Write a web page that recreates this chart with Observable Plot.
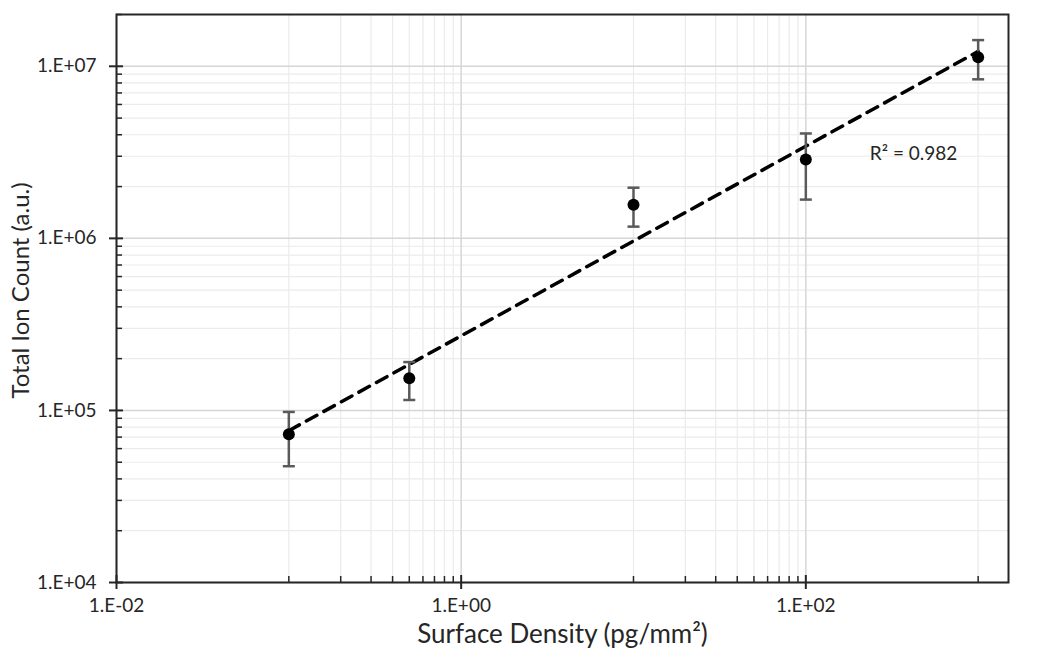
<!DOCTYPE html>
<html><head><meta charset="utf-8">
<script src="https://cdn.jsdelivr.net/npm/d3@7"></script>
<script src="https://cdn.jsdelivr.net/npm/@observablehq/plot@0.6"></script>
<style>body{margin:0;background:#fff;} svg{display:block;}</style>
</head><body><div id="chart"></div>
<script>
// Data
const density = [0.1, 0.5, 10, 100, 1000];
const ionCount = [72800, 154000, 1570000, 2870000, 11300000];
const errLow = [47400, 115000, 1170000, 1680000, 8400000];
const errHigh = [98000, 191000, 1970000, 4070000, 14200000];

// Axis ticks
const xMajorTicks = [0.01, 1, 100];
const xTickLabels = ["1.E-02", "1.E+00", "1.E+02"];
const xMinorTicks = [0.1, 0.2, 0.3, 0.4, 0.5, 0.6, 0.7, 0.8, 0.9, 10, 20, 30, 40, 50, 60, 70, 80, 90, 1000];
const yMajorTicks = [1e4, 1e5, 1e6, 1e7];
const yTickLabels = ["1.E+04", "1.E+05", "1.E+06", "1.E+07"];
const yMinorTicks = [2e4, 3e4, 4e4, 5e4, 6e4, 7e4, 8e4, 9e4,
                     2e5, 3e5, 4e5, 5e5, 6e5, 7e5, 8e5, 9e5,
                     2e6, 3e6, 4e6, 5e6, 6e6, 7e6, 8e6, 9e6, 2e7];
const xDomain = [0.01, 1500];
const yDomain = [1e4, 2e7];

const xTitle = "Surface Density (pg/mm²)";
const yTitle = "Total Ion Count (a.u.)";
const r2Label = ["R² = 0.982"];
const r2Anchor = [{x: 235, y: 3.1e6}];

const rows = density.map((x, i) => ({x, y: ionCount[i], lo: errLow[i], hi: errHigh[i]}));

// Power-law trendline (least squares in log-log space, as Excel's power trendline)
const lx = density.map(Math.log10), ly = ionCount.map(Math.log10);
const mx = d3.mean(lx), my = d3.mean(ly);
const slope = d3.sum(lx, (v, i) => (v - mx) * (ly[i] - my)) / d3.sum(lx, v => (v - mx) ** 2);
const icpt = my - slope * mx;
const xExt = d3.extent(density);
const trend = xExt.map(x => ({x, y: 10 ** (icpt + slope * Math.log10(x))}));

const cap = {draw(ctx, size) { const w = Math.sqrt(size / Math.PI); ctx.moveTo(-w, 0); ctx.lineTo(w, 0); }};

const FONT = "Lato, 'Open Sans', sans-serif";
const INK = "#262626";
const fmtX = d => xTickLabels[xMajorTicks.indexOf(d)];
const fmtY = d => yTickLabels[yMajorTicks.indexOf(d)];

const chart = Plot.plot({
  width: 1050, height: 657,
  marginLeft: 116, marginRight: 42, marginTop: 14, marginBottom: 75,
  style: {fontFamily: FONT, color: INK, background: "#fff"},
  x: {type: "log", domain: xDomain, axis: null},
  y: {type: "log", domain: yDomain, axis: null},
  marks: [
    Plot.ruleX(xMinorTicks, {stroke: "#ebebeb", strokeWidth: 1.2}),
    Plot.ruleY(yMinorTicks, {stroke: "#ebebeb", strokeWidth: 1.2}),
    Plot.ruleX(xMajorTicks, {stroke: "#d6d6d6", strokeWidth: 1.5}),
    Plot.ruleY(yMajorTicks, {stroke: "#d6d6d6", strokeWidth: 1.5}),
    // minor ticks (inside)
    Plot.axisX({ticks: xMinorTicks, anchor: "bottom", tickSize: -6, text: null, label: null, strokeWidth: 1.5, stroke: INK}),
    Plot.axisY({ticks: yMinorTicks, anchor: "left", tickSize: -6, text: null, label: null, strokeWidth: 1.5, stroke: INK}),
    // major ticks crossing the axis
    Plot.axisX({ticks: xMajorTicks, anchor: "bottom", tickSize: -7, text: null, label: null, strokeWidth: 2, stroke: INK}),
    Plot.axisY({ticks: yMajorTicks, anchor: "left", tickSize: -7, text: null, label: null, strokeWidth: 2, stroke: INK}),
    Plot.axisX({ticks: xMajorTicks, anchor: "bottom", tickSize: 7, tickPadding: 9, tickFormat: fmtX, label: null, fontSize: 19, strokeWidth: 2, stroke: INK, fill: INK}),
    Plot.axisY({ticks: yMajorTicks, anchor: "left", tickSize: 7, tickPadding: 13, tickFormat: fmtY, label: null, fontSize: 19, strokeWidth: 2, stroke: INK, fill: INK}),
    Plot.frame({stroke: INK, strokeWidth: 2}),
    // trendline
    Plot.line(trend, {x: "x", y: "y", stroke: "black", strokeWidth: 3.5, strokeDasharray: "12,8"}),
    // error bars
    Plot.ruleX(rows, {x: "x", y1: "lo", y2: "hi", stroke: "#5a5a5a", strokeWidth: 2.5}),
    Plot.dot(rows, {x: "x", y: "lo", symbol: cap, r: 6, stroke: "#5a5a5a", strokeWidth: 2.5, fill: "none"}),
    Plot.dot(rows, {x: "x", y: "hi", symbol: cap, r: 6, stroke: "#5a5a5a", strokeWidth: 2.5, fill: "none"}),
    // points
    Plot.dot(rows, {x: "x", y: "y", r: 6, fill: "black", stroke: "none"}),
    // R² label
    Plot.text(r2Anchor, {x: "x", y: "y", text: () => r2Label[0], textAnchor: "start", fontSize: 19, fill: INK}),
    // axis titles
    Plot.text([xTitle], {frameAnchor: "bottom", dy: 60, text: d => d, fontSize: 26, fill: INK}),
    Plot.text([yTitle], {frameAnchor: "left", textAnchor: "middle", dx: -95, dy: -8, rotate: -90, text: d => d, fontSize: 24, fill: INK})
  ]
});
document.getElementById("chart").append(chart);
</script>
</body></html>
